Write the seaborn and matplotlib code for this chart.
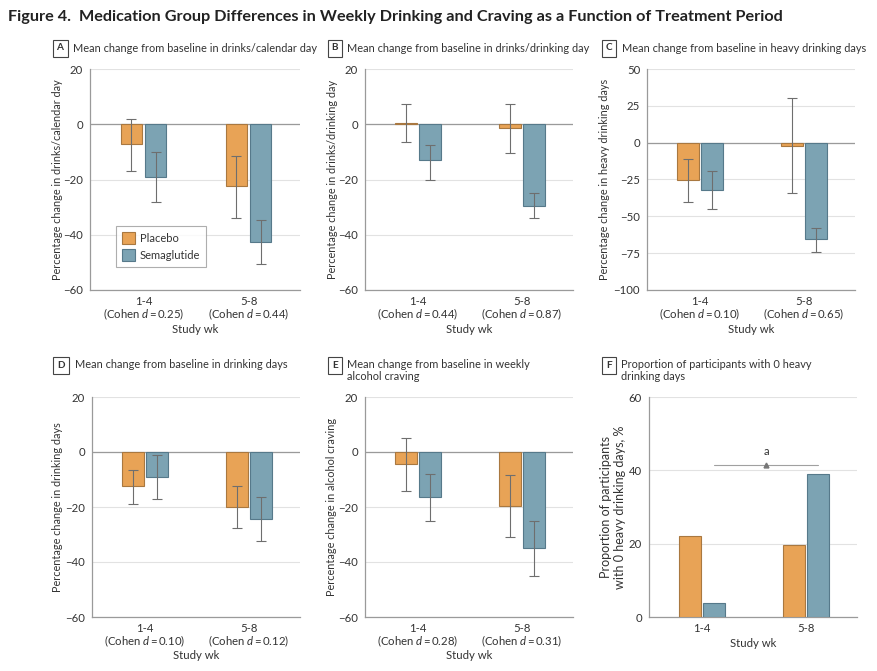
"""Figure 4: medication group differences in weekly drinking and craving by treatment period."""

import matplotlib
matplotlib.use("Agg")
import matplotlib.pyplot as plt
from matplotlib.patches import Patch
import pandas as pd
import seaborn as sns

WEEKS = ["1-4", "5-8"]
GROUPS = ["Placebo", "Semaglutide"]

# A: drinks per calendar day
A_PLACEBO = [-7.0, -22.5]
A_SEMA = [-19.0, -42.5]
A_PLACEBO_CI = [(-17.0, 2.0), (-34.0, -11.5)]
A_SEMA_CI = [(-28.0, -10.0), (-50.5, -34.5)]
A_COHEN = ["0.25", "0.44"]

# B: drinks per drinking day
B_PLACEBO = [0.5, -1.5]
B_SEMA = [-13.0, -29.5]
B_PLACEBO_CI = [(-6.5, 7.5), (-10.5, 7.5)]
B_SEMA_CI = [(-20.0, -7.5), (-34.0, -25.0)]
B_COHEN = ["0.44", "0.87"]

# C: heavy drinking days
C_PLACEBO = [-25.5, -2.0]
C_SEMA = [-32.0, -65.5]
C_PLACEBO_CI = [(-40.0, -11.0), (-34.0, 30.0)]
C_SEMA_CI = [(-45.0, -19.0), (-74.0, -58.0)]
C_COHEN = ["0.10", "0.65"]

# D: drinking days
D_PLACEBO = [-12.5, -20.0]
D_SEMA = [-9.0, -24.5]
D_PLACEBO_CI = [(-19.0, -6.5), (-27.5, -12.5)]
D_SEMA_CI = [(-17.0, -1.0), (-32.5, -16.5)]
D_COHEN = ["0.10", "0.12"]

# E: weekly alcohol craving
E_PLACEBO = [-4.5, -19.5]
E_SEMA = [-16.5, -35.0]
E_PLACEBO_CI = [(-14.0, 5.0), (-31.0, -8.5)]
E_SEMA_CI = [(-25.0, -8.0), (-45.0, -25.0)]
E_COHEN = ["0.28", "0.31"]

# F: proportion with 0 heavy drinking days
F_PLACEBO = [22.0, 19.7]
F_SEMA = [3.7, 39.0]
F_BRACKET = 41.5

PLACEBO_COLOR = "#E8A356"
SEMA_COLOR = "#7CA3B3"
EDGE = {"Placebo": "#A97840", "Semaglutide": "#56798A"}
INK = "#333333"
GRID = "#E2E2E2"
AXIS = "#9A9A9A"

W, H = 877, 671

sns.set_theme(style="white")
plt.rcParams["font.family"] = ["Lato", "DejaVu Sans"]
plt.rcParams["mathtext.fontset"] = "custom"
plt.rcParams["mathtext.it"] = "Lato:italic"
plt.rcParams["mathtext.rm"] = "Lato"
plt.rcParams["text.color"] = INK


def box(x0, y0, x1, y1):
    return [x0 / W, 1 - y1 / H, (x1 - x0) / W, (y1 - y0) / H]


def draw_panel(ax, placebo, sema, ylim, yticks, ylabel, cohen=None,
               placebo_ci=None, sema_ci=None, zero_line=True, ylabel_size=7.8):
    df = pd.DataFrame({
        "week": WEEKS * 2,
        "group": ["Placebo"] * 2 + ["Semaglutide"] * 2,
        "value": placebo + sema,
    })
    sns.barplot(data=df, x="week", y="value", hue="group", order=WEEKS,
                hue_order=GROUPS, palette=[PLACEBO_COLOR, SEMA_COLOR],
                width=0.46, gap=0.1, linewidth=0.8, saturation=1,
                errorbar=None, legend=False, ax=ax, zorder=3)
    for container, group in zip(ax.containers, GROUPS):
        for bar in container:
            bar.set_edgecolor(EDGE[group])
    if placebo_ci is not None:
        for container, vals, cis in zip(ax.containers, [placebo, sema], [placebo_ci, sema_ci]):
            for bar, v, (lo, hi) in zip(container, vals, cis):
                x = bar.get_x() + bar.get_width() / 2
                ax.errorbar(x, v, yerr=[[v - lo], [hi - v]], fmt="none",
                            ecolor="#6E6E6E", elinewidth=0.8, capsize=3.4,
                            capthick=0.8, zorder=4)
    ax.set_xlim(-0.51, 1.49)
    ax.set_ylim(*ylim)
    ax.set_yticks(yticks)
    ax.set_yticklabels([f"{t:g}".replace("-", "\u2212") for t in yticks])
    ax.grid(axis="y", color=GRID, linewidth=0.8, zorder=0)
    ax.set_axisbelow(True)
    if zero_line:
        ax.axhline(0, color=AXIS, linewidth=0.9, zorder=2)
    for side in ["top", "right"]:
        ax.spines[side].set_visible(False)
    for side in ["left", "bottom"]:
        ax.spines[side].set_color(AXIS)
        ax.spines[side].set_linewidth(0.9)
    ax.tick_params(axis="both", direction="out", length=3, width=0.8,
                   color=AXIS, labelsize=8.2, labelcolor=INK, pad=2)
    ax.tick_params(axis="x", pad=1)
    ax.set_xticks([0, 1])
    if cohen is not None:
        ax.set_xticklabels([f"{w}\n(Cohen $d$\u2009=\u2009{c})" for w, c in zip(WEEKS, cohen)],
                           linespacing=1.0)
    else:
        ax.set_xticklabels(WEEKS)
    ax.set_xlabel("Study wk", fontsize=8.2, color=INK)
    ax.set_ylabel(ylabel, fontsize=ylabel_size, color=INK)


def panel_title(letter, text, x_box, x_text, y):
    fig.text(x_box / W, 1 - y / H, letter, fontsize=7.2, fontweight="bold",
             ha="center", va="center", color=INK,
             bbox={"boxstyle": "square,pad=0.4", "facecolor": "white",
                   "edgecolor": "#444444", "linewidth": 0.8})
    two = "\n" in text
    fig.text(x_text / W, 1 - (y - 6.5 if two else y) / H, text, fontsize=7.9,
             ha="left", va="top" if two else "center", color=INK, linespacing=1.12)


fig = plt.figure(figsize=(W / 100, H / 100), dpi=100)
fig.patch.set_facecolor("white")

title = fig.text(8 / W, 1 - 17 / H,
                 "Figure 4.  Medication Group Differences in Weekly Drinking and Craving as a Function of Treatment Period",
                 fontsize=11, fontweight="bold", ha="left", va="center", color="#222222")
renderer = fig.canvas.get_renderer()
tw = title.get_window_extent(renderer).width
title.set_fontsize(11 * 770 / tw)

axA = fig.add_axes(box(90, 69, 300, 290))
draw_panel(axA, A_PLACEBO, A_SEMA, (-60, 20), [-60, -40, -20, 0, 20],
           "Percentage change in drinks/calendar day", A_COHEN, A_PLACEBO_CI, A_SEMA_CI)
handles = [Patch(facecolor=PLACEBO_COLOR, edgecolor=EDGE["Placebo"], linewidth=0.8),
           Patch(facecolor=SEMA_COLOR, edgecolor=EDGE["Semaglutide"], linewidth=0.8)]
leg = axA.legend(handles, GROUPS, loc="lower left", bbox_to_anchor=(0.124, 0.104),
                 borderaxespad=0, fontsize=8, frameon=True, fancybox=False,
                 handlelength=1.2, handleheight=1.2, handletextpad=0.4,
                 borderpad=0.55, labelspacing=0.5, edgecolor=AXIS)
leg.get_frame().set_linewidth(0.8)

axB = fig.add_axes(box(365, 69, 573, 290))
draw_panel(axB, B_PLACEBO, B_SEMA, (-60, 20), [-60, -40, -20, 0, 20],
           "Percentage change in drinks/drinking day", B_COHEN, B_PLACEBO_CI, B_SEMA_CI)

axC = fig.add_axes(box(647, 69, 855, 290))
draw_panel(axC, C_PLACEBO, C_SEMA, (-100, 50), [-100, -75, -50, -25, 0, 25, 50],
           "Percentage change in heavy drinking days", C_COHEN, C_PLACEBO_CI, C_SEMA_CI)

axD = fig.add_axes(box(92, 397, 300, 617))
draw_panel(axD, D_PLACEBO, D_SEMA, (-60, 20), [-60, -40, -20, 0, 20],
           "Percentage change in drinking days", D_COHEN, D_PLACEBO_CI, D_SEMA_CI)

axE = fig.add_axes(box(365, 397, 573, 617))
draw_panel(axE, E_PLACEBO, E_SEMA, (-60, 20), [-60, -40, -20, 0, 20],
           "Percentage change in alcohol craving", E_COHEN, E_PLACEBO_CI, E_SEMA_CI)

axF = fig.add_axes(box(649, 397, 857, 617))
draw_panel(axF, F_PLACEBO, F_SEMA, (0, 60), [0, 20, 40, 60],
           "Proportion of participants\nwith 0 heavy drinking days, %",
           zero_line=False, ylabel_size=9)
sema_bars = list(axF.containers[1])
x0 = sema_bars[0].get_x() + sema_bars[0].get_width() / 2
x1 = sema_bars[1].get_x() + sema_bars[1].get_width() / 2
axF.plot([x0, x1], [F_BRACKET, F_BRACKET], color="#A0A0A0", linewidth=0.8, zorder=4)
axF.plot([(x0 + x1) / 2], [F_BRACKET], marker="^", markersize=3.5, color="#777777", zorder=5)
axF.text((x0 + x1) / 2, F_BRACKET + 2.2, "a", fontsize=8, ha="center", va="bottom", color=INK)

for ax, lx in [(axA, -0.129), (axB, -0.13), (axC, -0.178),
               (axD, -0.139), (axE, -0.135), (axF, -0.11)]:
    ax.yaxis.set_label_coords(lx, 0.5)
for ax in [axA, axB, axC, axD, axE]:
    ax.xaxis.set_label_coords(0.5, -0.152)
axF.xaxis.set_label_coords(0.5, -0.095)

panel_title("A", "Mean change from baseline in drinks/calendar day", 60, 73, 48)
panel_title("B", "Mean change from baseline in drinks/drinking day", 335, 347, 48)
panel_title("C", "Mean change from baseline in heavy drinking days", 609, 622, 48)
panel_title("D", "Mean change from baseline in drinking days", 61, 75, 365)
panel_title("E", "Mean change from baseline in weekly\nalcohol craving", 335, 347, 365)
panel_title("F", "Proportion of participants with 0 heavy\ndrinking days", 609, 621, 365)

fig.savefig("out.png", dpi=100)
